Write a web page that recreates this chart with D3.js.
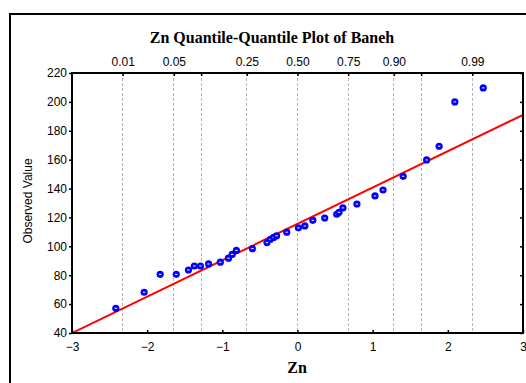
<!DOCTYPE html>
<html><head><meta charset="utf-8">
<script src="https://cdn.jsdelivr.net/npm/d3@7"></script>
<style>
body{margin:0;background:#fff;}
svg{display:block;}
</style></head>
<body>
<script>
// ---- data ----
const expectedNormal = [-2.417,-2.04,-1.827,-1.613,-1.451,-1.373,-1.291,-1.183,-1.027,-0.918,-0.869,-0.813,-0.6,-0.406,-0.36,-0.318,-0.278,-0.143,0.012,0.098,0.204,0.362,0.522,0.552,0.604,0.791,1.031,1.138,1.406,1.718,1.884,2.093,2.471];
const observedValue = [57.1,68.2,80.6,80.6,83.6,86.4,86.4,87.8,89.0,91.8,94.4,97.2,98.4,102.6,104.9,106.2,107.3,109.8,112.8,114.1,118.0,119.6,122.2,123.6,126.6,129.3,134.9,139.0,148.5,159.8,169.3,200.0,209.7];
const fitLineX = [-3, 3];
const fitLineY = [40, 191];
const xTicks = [-3,-2,-1,0,1,2,3];
const yTicks = [40,60,80,100,120,140,160,180,200,220];
const probZ = [-2.326,-1.645,-1.282,-0.674,0,0.674,1.282,1.645,2.326];
const probLabels = ["0.01","0.05","","0.25","0.50","0.75","0.90","","0.99"];
const titleText = "Zn Quantile-Quantile Plot of Baneh";
const xLabel = "Zn";
const yLabel = "Observed Value";

// ---- layout ----
const W = 526, H = 383;
const L = 72, T = 73, R = 523, B = 333;

const svg = d3.select("body").append("svg").attr("width", W).attr("height", H);

// outer frame
svg.append("rect").attr("x", 10).attr("y", 14).attr("width", 530).attr("height", 400)
  .attr("fill", "none").attr("stroke", "#000").attr("stroke-width", 2);

const x = d3.scaleLinear().domain([-3, 3]).range([L, R]);
const y = d3.scaleLinear().domain([40, 220]).range([B, T]);

// grid lines at probabilities
svg.append("g").selectAll("line").data(probZ).join("line")
  .attr("x1", d => x(d)).attr("x2", d => x(d))
  .attr("y1", T).attr("y2", B)
  .attr("stroke", "#b4b4b4").attr("stroke-width", 1)
  .attr("stroke-dasharray", "3,2").attr("shape-rendering", "crispEdges");

const fontSans = "'Liberation Sans', Arial, sans-serif";

function styleAxis(g, hideLabels) {
  g.select(".domain").remove();
  g.selectAll(".tick line").attr("stroke", "#000").attr("stroke-width", 1.5);
  g.selectAll("text").attr("font-family", fontSans).attr("font-size", 12).attr("fill", "#000");
  if (hideLabels) g.selectAll("text").remove();
}

// left axis
svg.append("g").attr("transform", `translate(${L},0)`)
  .call(d3.axisLeft(y).tickValues(yTicks).tickSize(3).tickPadding(2).tickFormat(d3.format("d")))
  .call(g => styleAxis(g, false));
// right axis
svg.append("g").attr("transform", `translate(${R},0)`)
  .call(d3.axisRight(y).tickValues(yTicks).tickSize(-3))
  .call(g => styleAxis(g, true));
// bottom axis
svg.append("g").attr("transform", `translate(0,${B})`)
  .call(d3.axisBottom(x).tickValues(xTicks).tickSize(-3).tickPadding(9).tickFormat(d3.format("d")))
  .call(g => styleAxis(g, false));
// top axis (probabilities)
svg.append("g").attr("transform", `translate(0,${T})`)
  .call(d3.axisTop(x).tickValues(probZ).tickSize(-3).tickPadding(7).tickFormat((d, i) => probLabels[i]))
  .call(g => styleAxis(g, false));

// clip
svg.append("clipPath").attr("id", "clip").append("rect")
  .attr("x", L).attr("y", T).attr("width", R - L).attr("height", B - T);

// fit line
svg.append("path").attr("clip-path", "url(#clip)")
  .datum(fitLineX.map((d, i) => [d, fitLineY[i]]))
  .attr("d", d3.line().x(d => x(d[0])).y(d => y(d[1])))
  .attr("stroke", "#ff0000").attr("stroke-width", 2).attr("fill", "none");

// points
const pts = svg.append("g").selectAll("g").data(expectedNormal).join("g")
  .attr("transform", (d, i) => `translate(${x(d)},${y(observedValue[i])})`);
pts.append("circle").attr("r", 3.6).attr("fill", "#0000ff");
pts.append("line").attr("x1", -1.2).attr("x2", 1.2).attr("y1", 0).attr("y2", 0)
  .attr("stroke", "#fff").attr("stroke-width", 1);

// frame box of plot
svg.append("rect").attr("x", L).attr("y", T).attr("width", R - L).attr("height", B - T)
  .attr("fill", "none").attr("stroke", "#000").attr("stroke-width", 2);

// title
svg.append("text").attr("x", 272).attr("y", 43).attr("text-anchor", "middle")
  .attr("font-family", "'Liberation Serif', 'Times New Roman', serif")
  .attr("font-weight", "bold").attr("font-size", 16).text(titleText);

// x label
svg.append("text").attr("x", 297).attr("y", 373).attr("text-anchor", "middle")
  .attr("font-family", "'Liberation Serif', 'Times New Roman', serif")
  .attr("font-weight", "bold").attr("font-size", 16).text(xLabel);

// y label
svg.append("text").attr("transform", `translate(31.5,201) rotate(-90)`)
  .attr("text-anchor", "middle").attr("font-family", fontSans).attr("font-size", 12)
  .text(yLabel);
</script>
</body></html>
